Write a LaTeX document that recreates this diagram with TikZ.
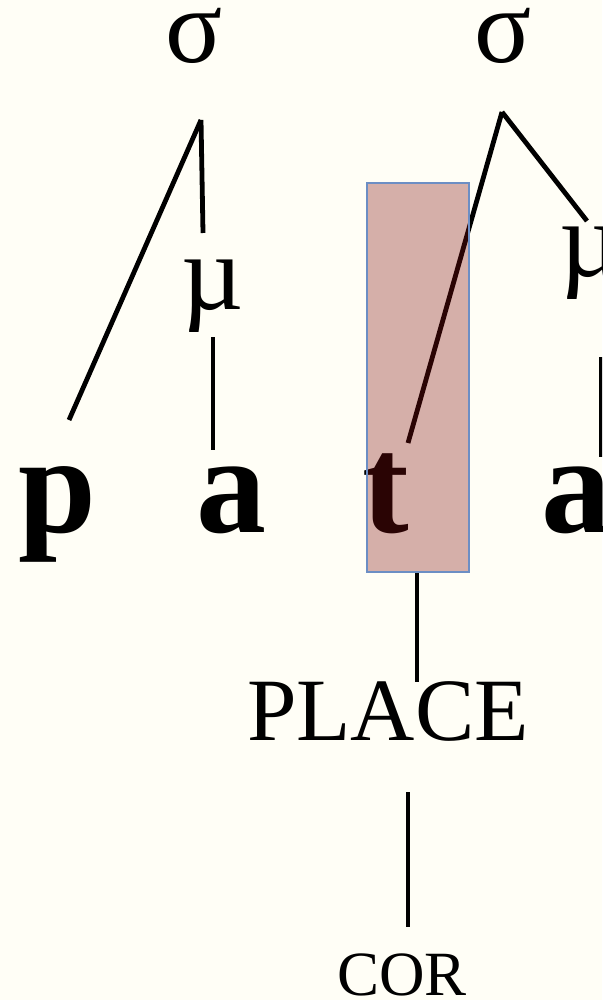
\documentclass[tikz,border=0pt]{standalone}
\usepackage{fontspec}
\setmainfont{Liberation Serif}
\definecolor{bgc}{RGB}{255,254,246}
\definecolor{boxfill}{RGB}{128,15,15}
\definecolor{boxline}{RGB}{108,142,196}
\begin{document}
\begin{tikzpicture}[x=1pt,y=-1pt,
  edge/.style={line width=4.8pt},
  greek/.style={inner sep=0pt, anchor=base, font=\fontsize{106}{106}\selectfont},
  mora/.style={inner sep=0pt, anchor=base, font=\fontsize{108}{108}\selectfont},
  segment/.style={inner sep=0pt, anchor=base, font=\fontsize{140}{140}\selectfont\bfseries},
  feat/.style={inner sep=0pt, anchor=base, font=\fontsize{89}{89}\selectfont},
  subfeat/.style={inner sep=0pt, anchor=base, font=\fontsize{63}{63}\selectfont},
  hilite/.style={draw=boxline, line width=1.8pt, fill=boxfill, fill opacity=0.33, inner sep=0pt, minimum width=102pt, minimum height=389pt}]
\useasboundingbox (0,0) rectangle (602,1000);
\fill[bgc] (0,0) rectangle (602,1000);
\clip (0,0) rectangle (602,1000);

% text nodes
\node[greek] (s1) at (194,63) {σ};
\node[greek] (s2) at (503,63) {σ};
\node[mora] (m1) at (213,309) {µ};
\node[mora] (m2) at (591,276) {µ};
\node[segment] (p) at (57,532) {p};
\node[segment] (a1) at (231,532) {a};
\node[segment] (t) at (386,532) {t};
\node[segment] (a2) at (576,532) {a};
\node[feat] (pl) at (388,740) {PLACE};
\node[subfeat] (cor) at (402,995) {COR};

% connector end points
\coordinate (s1b) at (201,120);
\coordinate (pT) at (69,420);
\coordinate (m1T) at (203,233);
\coordinate (m1B) at (213,337);
\coordinate (a1T) at (213,450);
\coordinate (s2b) at (502,112);
\coordinate (tT) at (408,443);
\coordinate (m2T) at (587,221);
\coordinate (m2B) at (601,357);
\coordinate (a2T) at (601,457);
\coordinate (tB) at (417,572);
\coordinate (plT) at (417,682);
\coordinate (plB) at (408,792);
\coordinate (corT) at (408,927);

% connectors
\draw[edge] (s1b) -- (pT);
\draw[edge] (s1b) -- (m1T);
\draw[edge] (m1B) -- (a1T);
\draw[edge] (s2b) -- (tT);
\draw[edge] (s2b) -- (m2T);
\draw[edge] (m2B) -- (a2T);
\draw[edge] (tB) -- (plT);
\draw[edge] (plB) -- (corT);

% highlight box over t
\node[hilite] (box) at (418,377.5) {};
\end{tikzpicture}
\end{document}
